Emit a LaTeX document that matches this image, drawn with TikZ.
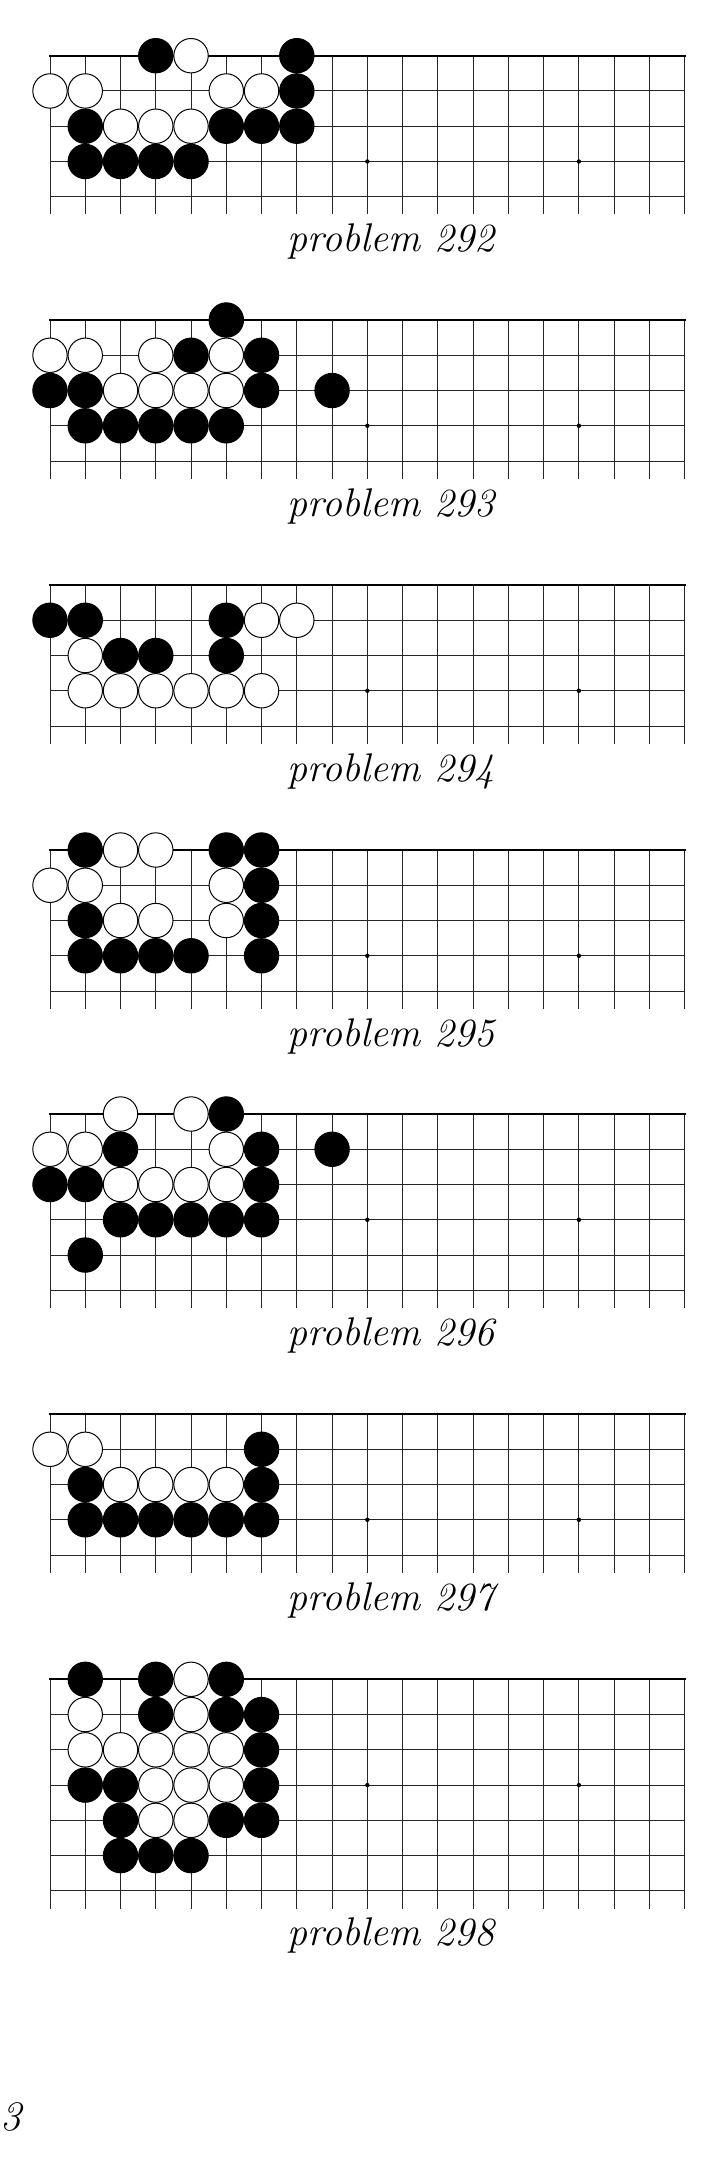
\documentclass[tikz,border=0pt]{standalone}
\begin{document}
\tikzset{
  gridline/.style={line width=0.5pt, black!85},
  edgeline/.style={line width=1.1pt, black, line cap=rect},
  bstone/.style={fill=black, draw=black, line width=0.5pt},
  wstone/.style={fill=white, draw=black, line width=0.5pt},
  starpt/.style={fill=black},
  caption/.style={font=\fontsize{20}{24}\selectfont\itshape, inner sep=0pt, anchor=base},
  pagenum/.style={font=\fontsize{21}{25}\selectfont\itshape, inner sep=0pt, anchor=base west},
}
\newcommand{\goboard}[5]{%
  \begin{scope}[shift={(0,#1)}]
    \pgfmathsetmacro{\ylow}{(#2-0.5)*35.26}
    \pgfmathtruncatemacro{\rmax}{#2-1}
    \foreach \c in {0,...,18} \draw[gridline] ({50+35.26*\c},0) -- ({50+35.26*\c},\ylow);
    \foreach \r in {1,...,\rmax} \draw[gridline] (50,{35.26*\r}) -- (684.7,{35.26*\r});
    \draw[edgeline] (50,0) -- (684.7,0);
    \foreach \c in {3,9,15} \fill[starpt] ({50+35.26*\c},{3*35.26}) circle (1.1pt);
    \foreach \c/\r in {#4} \draw[bstone] ({50+35.26*\c},{35.26*\r}) circle (8.6pt);
    \foreach \c/\r in {#5} \draw[wstone] ({50+35.26*\c},{35.26*\r}) circle (8.6pt);
    \node[caption] (cap#3) at (390.8,{196+35.26*(#2-5)}) {problem #3};
  \end{scope}%
}
\begin{tikzpicture}[x=0.5pt,y=-0.5pt]
\useasboundingbox (0,0) rectangle (725,2181);
\goboard{55.7}{5}{292}
  {3/0,7/0,7/1,1/2,5/2,6/2,7/2,1/3,2/3,3/3,4/3}
  {4/0,0/1,1/1,5/1,6/1,2/2,3/2,4/2}
\goboard{320}{5}{293}
  {5/0,4/1,6/1,0/2,1/2,6/2,8/2,1/3,2/3,3/3,4/3,5/3}
  {0/1,1/1,3/1,5/1,2/2,3/2,4/2,5/2}
\goboard{585}{5}{294}
  {0/1,1/1,5/1,2/2,3/2,5/2}
  {6/1,7/1,1/2,1/3,2/3,3/3,4/3,5/3,6/3}
\goboard{850}{5}{295}
  {1/0,5/0,6/0,6/1,1/2,6/2,1/3,2/3,3/3,4/3,6/3}
  {2/0,3/0,0/1,1/1,5/1,2/2,3/2,5/2}
\goboard{1114}{6}{296}
  {5/0,2/1,6/1,8/1,0/2,1/2,6/2,2/3,3/3,4/3,5/3,6/3,1/4}
  {2/0,4/0,0/1,1/1,5/1,2/2,3/2,4/2,5/2}
\goboard{1414}{5}{297}
  {6/1,1/2,6/2,1/3,2/3,3/3,4/3,5/3,6/3}
  {0/1,1/1,2/2,3/2,4/2,5/2}
\goboard{1679.3}{7}{298}
  {1/0,3/0,5/0,3/1,5/1,6/1,6/2,1/3,2/3,6/3,2/4,5/4,6/4,2/5,3/5,4/5}
  {4/0,1/1,4/1,1/2,2/2,3/2,4/2,5/2,3/3,4/3,5/3,3/4,4/4}
\node[pagenum] (page) at (0,2130) {3};
\end{tikzpicture}
\end{document}
